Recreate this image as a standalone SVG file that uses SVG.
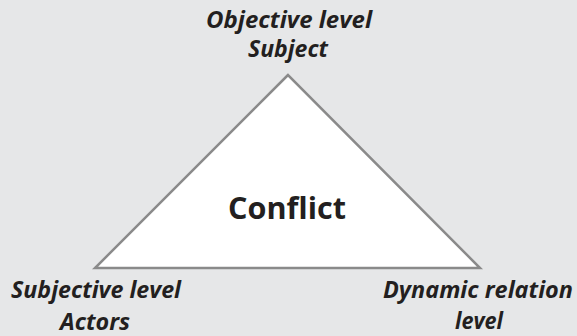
<svg xmlns="http://www.w3.org/2000/svg" width="577" height="336" viewBox="0 0 577 336">
  <style>
    .lbl { font-family: "Open Sans", "Liberation Sans", sans-serif; font-weight: bold; font-style: italic; font-size: 23px; fill: #231f20; text-anchor: middle; }
    .core { font-family: "Open Sans", "Liberation Sans", sans-serif; font-weight: bold; font-size: 31px; fill: #231f20; text-anchor: middle; }
    .tri { fill: #ffffff; stroke: #8a8a8a; stroke-width: 2.5; stroke-linejoin: miter; }
  </style>
  <rect width="577" height="336" fill="#e6e7e8"/>
  <g id="conflict">
    <polygon class="tri" points="288,75 95,268 480,268"/>
    <text class="core" x="287" y="219" textLength="118" lengthAdjust="spacingAndGlyphs">Conflict</text>
  </g>
  <g id="objective">
    <text class="lbl" x="289" y="28" textLength="166" lengthAdjust="spacingAndGlyphs">Objective level</text>
    <text class="lbl" x="288" y="57" textLength="80" lengthAdjust="spacingAndGlyphs">Subject</text>
  </g>
  <g id="subjective">
    <text class="lbl" x="96" y="298" textLength="170" lengthAdjust="spacingAndGlyphs">Subjective level</text>
    <text class="lbl" x="95" y="330" textLength="70" lengthAdjust="spacingAndGlyphs">Actors</text>
  </g>
  <g id="dynamic">
    <text class="lbl" x="478" y="298" textLength="190" lengthAdjust="spacingAndGlyphs">Dynamic relation</text>
    <text class="lbl" x="479" y="329" textLength="48" lengthAdjust="spacingAndGlyphs">level</text>
  </g>
  <g id="connectors"/>
</svg>
